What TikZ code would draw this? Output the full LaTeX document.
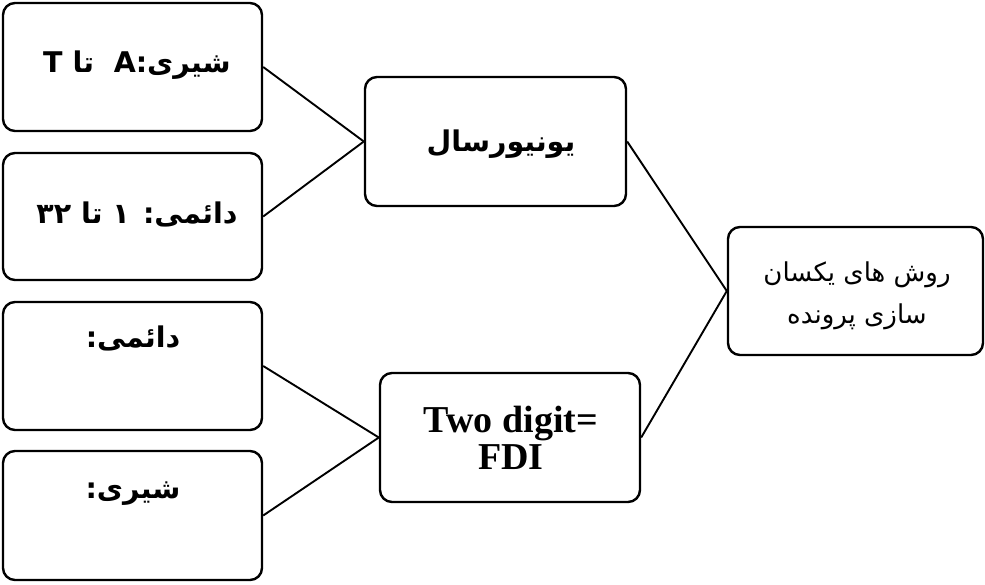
\documentclass[tikz,border=0pt]{standalone}
\usepackage{fontspec}
\setmainfont{Liberation Serif}
\newfontfamily\arabicfont[Script=Arabic]{DejaVu Sans}
\TeXXeTstate=1
\begin{document}
\begin{tikzpicture}[x=1pt,y=-1pt,
  box/.style={draw, line width=2.4pt, rounded corners=12pt, inner sep=0pt},
  link/.style={line width=1.9pt},
  fab/.style={inner sep=0pt, font=\arabicfont\bfseries\fontsize{28.5}{32}\selectfont},
  far/.style={inner sep=0pt, align=center, font=\arabicfont\fontsize{26}{42}\selectfont},
  enb/.style={inner sep=0pt, align=center, font=\bfseries\fontsize{38}{37}\selectfont}]
\useasboundingbox (0,0) rectangle (985,584);
% boxes
\node[box, minimum width=259pt, minimum height=128pt] (b1) at (132.5,67) {};
\node[box, minimum width=259pt, minimum height=127pt] (b2) at (132.5,216.5) {};
\node[box, minimum width=259pt, minimum height=128pt] (b3) at (132.5,366) {};
\node[box, minimum width=259pt, minimum height=129pt] (b4) at (132.5,515.5) {};
\node[box, minimum width=261pt, minimum height=129pt] (uni) at (495.5,141.5) {};
\node[box, minimum width=260pt, minimum height=129pt] (fdi) at (510,437.5) {};
\node[box, minimum width=255pt, minimum height=128pt] (res) at (855.5,291) {};
% texts
\node[fab] (t1) at (137,65) {\beginR شیری:A\ \ تا T\endR};
\node[fab] (t2) at (137,214) {\beginR دائمی: ۱ تا ۳۲\endR};
\node[fab] (t3) at (133,338) {\beginR دائمی:\endR};
\node[fab] (t4) at (133,494) {\beginR شیری:\endR};
\node[fab] (tu) at (501,144) {\beginR یونیورسال\endR};
\node[enb] (tf) at (511,438) {Two digit=\\FDI};
\node[far] (tr) at (857,296) {\beginR روش های یکسان\endR\\\beginR سازی پرونده\endR};
% connectors
\draw[link] (b1.east) -- (uni.west);
\draw[link] (b2.east) -- (uni.west);
\draw[link] (b3.east) -- (fdi.west);
\draw[link] (b4.east) -- (fdi.west);
\draw[link] (uni.east) -- (res.west);
\draw[link] (fdi.east) -- (res.west);
\end{tikzpicture}
\end{document}
